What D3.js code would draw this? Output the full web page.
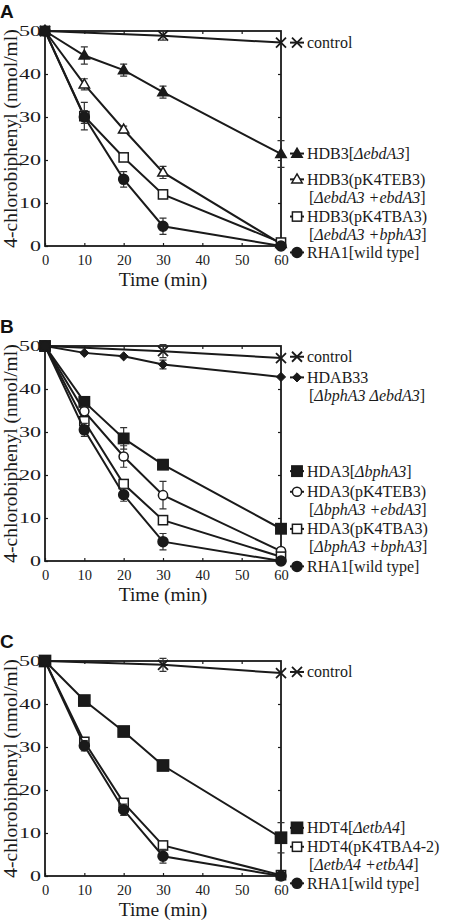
<!DOCTYPE html>
<html><head><meta charset="utf-8">
<script src="https://cdn.jsdelivr.net/npm/d3@7"></script>
<style>body{margin:0;background:#fff}svg{display:block}</style></head>
<body>
<script>
// ---------- data ----------
const times = [0, 10, 20, 30, 60];
const ctrlTimes = [0, 30, 60];
const xTicks = [0, 10, 20, 30, 40, 50, 60];
const yTicks = [0, 10, 20, 30, 40, 50];
const panelLetters = ["A", "B", "C"];

// Panel A
const A_control = [50, 48.9, 47.3], A_controlErr = [0, 1.0, 0];
const A_HDB3 = [50, 44.3, 40.9, 35.8, 21.4], A_HDB3Err = [0, 2.0, 1.4, 1.4, 3.1];
const A_TEB3 = [50, 37.6, 27.1, 17.1, 0.5], A_TEB3Err = [0, 1.3, 0.8, 1.4, 0];
const A_TBA3 = [50, 30.2, 20.6, 12.0, 0.8], A_TBA3Err = [0, 3.2, 0.6, 0.6, 0];
const A_RHA1 = [50, 30.0, 15.5, 4.6, 0], A_RHA1Err = [0, 1.5, 1.8, 1.9, 0];
const A_labels = [["control"], ["HDB3[<i>ΔebdA3</i>]"], ["HDB3(pK4TEB3)", "[<i>ΔebdA3 +ebdA3</i>]"],
  ["HDB3(pK4TBA3)", "[<i>ΔebdA3 +bphA3</i>]"], ["RHA1[wild type]"]];
const A_legendY = [47.3, 21.5, 15.5, 6.85, -1.5];

// Panel B
const B_control = [50, 48.8, 47.2], B_controlErr = [0, 1.5, 0];
const B_HDAB33 = [50, 48.4, 47.6, 45.7, 42.8], B_HDAB33Err = [0, 0, 0, 1.0, 0];
const B_HDA3 = [50, 37.0, 28.5, 22.4, 7.5], B_HDA3Err = [0, 1.0, 2.5, 0.5, 0];
const B_TEB3 = [50, 34.8, 24.3, 15.3, 2.3], B_TEB3Err = [0, 1.0, 2.5, 3.2, 0.5];
const B_TBA3 = [50, 32.5, 17.9, 9.5, 1.0], B_TBA3Err = [0, 1.0, 0.5, 0.5, 0];
const B_RHA1 = [50, 30.5, 15.4, 4.5, 0], B_RHA1Err = [0, 1.5, 1.5, 1.9, 0];
const B_labels = [["control"], ["HDAB33", "[<i>ΔbphA3 ΔebdA3</i>]"], ["HDA3[<i>ΔbphA3</i>]"],
  ["HDA3(pK4TEB3)", "[<i>ΔbphA3 +ebdA3</i>]"], ["HDA3(pK4TBA3)", "[<i>ΔbphA3 +bphA3</i>]"], ["RHA1[wild type]"]];
const B_legendY = [47.5, 42.7, 20.9, 16.1, 7.47, -1.25];

// Panel C
const C_control = [50, 49.1, 47.2], C_controlErr = [0, 1.5, 0];
const C_HDT4 = [50, 40.8, 33.6, 25.7, 8.9], C_HDT4Err = [0, 0, 0, 0, 3.5];
const C_TBA42 = [50, 31.2, 17.0, 7.1, 0.2], C_TBA42Err = [0, 0.8, 0.8, 0.5, 0];
const C_RHA1 = [50, 30.3, 15.4, 4.6, 0], C_RHA1Err = [0, 1.2, 1.3, 1.6, 0];
const C_labels = [["control"], ["HDT4[<i>ΔetbA4</i>]"], ["HDT4(pK4TBA4-2)", "[<i>ΔetbA4 +etbA4</i>]"], ["RHA1[wild type]"]];
const C_legendY = [47.45, 11.2, 6.8, -1.7];

// ---------- layout ----------
const W = 450, H = 922;
const ink = "#1a1a1a";
const serif = "'Liberation Serif','Times New Roman',serif";
const plotLeft = 45, plotRight = 281, plotH = 215;
const panelTops = [31, 346, 661];

const panels = [
  { series: [
      { t: ctrlTimes, v: A_control, e: A_controlErr, m: "x" },
      { t: times, v: A_HDB3, e: A_HDB3Err, m: "triF" },
      { t: times, v: A_TEB3, e: A_TEB3Err, m: "triO" },
      { t: times, v: A_TBA3, e: A_TBA3Err, m: "sqO" },
      { t: times, v: A_RHA1, e: A_RHA1Err, m: "cirF" } ],
    labels: A_labels, legendY: A_legendY },
  { series: [
      { t: ctrlTimes, v: B_control, e: B_controlErr, m: "x" },
      { t: times, v: B_HDAB33, e: B_HDAB33Err, m: "dia" },
      { t: times, v: B_HDA3, e: B_HDA3Err, m: "sqF" },
      { t: times, v: B_TEB3, e: B_TEB3Err, m: "cirO" },
      { t: times, v: B_TBA3, e: B_TBA3Err, m: "sqO" },
      { t: times, v: B_RHA1, e: B_RHA1Err, m: "cirF" } ],
    labels: B_labels, legendY: B_legendY },
  { series: [
      { t: ctrlTimes, v: C_control, e: C_controlErr, m: "x" },
      { t: times, v: C_HDT4, e: C_HDT4Err, m: "sqFL" },
      { t: times, v: C_TBA42, e: C_TBA42Err, m: "sqO" },
      { t: times, v: C_RHA1, e: C_RHA1Err, m: "cirF" } ],
    labels: C_labels, legendY: C_legendY }
];

const svg = d3.select("body").append("svg").attr("width", W).attr("height", H)
  .attr("font-family", serif).style("font-family", serif);

function marker(g, type, x, y) {
  const s = ink;
  if (type === "x") {
    const r = 5;
    g.append("path").attr("d", `M${x - r},${y - r}L${x + r},${y + r}M${x - r},${y + r}L${x + r},${y - r}`)
      .attr("stroke", s).attr("stroke-width", 1.8).attr("fill", "none");
  } else if (type === "triF" || type === "triO") {
    const a = 5.2, h = 9;
    g.append("path").attr("d", `M${x},${y - h * 0.6}L${x + a},${y + h * 0.4}L${x - a},${y + h * 0.4}Z`)
      .attr("fill", type === "triF" ? s : "#fff").attr("stroke", s).attr("stroke-width", 1.5);
  } else if (type === "sqF" || type === "sqO" || type === "sqFL") {
    const a = type === "sqFL" ? 5.6 : (type === "sqF" ? 5.2 : 4.6);
    g.append("rect").attr("x", x - a).attr("y", y - a).attr("width", 2 * a).attr("height", 2 * a)
      .attr("fill", type === "sqO" ? "#fff" : s).attr("stroke", s).attr("stroke-width", 1.5);
  } else if (type === "cirF" || type === "cirO") {
    g.append("circle").attr("cx", x).attr("cy", y).attr("r", type === "cirF" ? 5 : 4.6)
      .attr("fill", type === "cirF" ? s : "#fff").attr("stroke", s).attr("stroke-width", 1.5);
  } else if (type === "dia") {
    const a = 4.6;
    g.append("path").attr("d", `M${x},${y - a}L${x + a},${y}L${x},${y + a}L${x - a},${y}Z`)
      .attr("fill", s).attr("stroke", s).attr("stroke-width", 1);
  }
}

function richText(textSel, str) {
  const parts = str.split(/(<i>.*?<\/i>)/).filter(p => p.length);
  parts.forEach(p => {
    const it = p.startsWith("<i>");
    textSel.append("tspan").text(it ? p.slice(3, -4) : p).attr("font-style", it ? "italic" : "normal");
  });
}

panels.forEach((p, pi) => {
  const top = panelTops[pi];
  const x = d3.scaleLinear().domain([0, 60]).range([plotLeft, plotRight]);
  const y = d3.scaleLinear().domain([0, 50]).range([top + plotH, top]);
  const g = svg.append("g");

  // panel letter
  g.append("text").attr("x", 0).attr("y", top - 13).text(panelLetters[pi])
    .attr("font-family", "'Liberation Sans',Arial,sans-serif").attr("font-weight", "bold")
    .attr("font-size", 19).attr("fill", "#111");

  // axes (inward ticks)
  const ax = g.append("g").attr("transform", `translate(0,${top + plotH})`)
    .call(d3.axisBottom(x).tickValues(xTicks).tickSize(-3).tickPadding(5));
  ax.selectAll("text").attr("font-size", 14.5).attr("font-family", serif).attr("fill", ink).attr("dy", "0.95em");
  const ay = g.append("g").attr("transform", `translate(${plotLeft},0)`)
    .call(d3.axisLeft(y).tickValues(yTicks).tickSize(-3).tickPadding(4));
  ay.selectAll("text").attr("font-size", 15).attr("font-family", serif).attr("fill", ink)
    .attr("textLength", d => String(d).length * 11).attr("lengthAdjust", "spacingAndGlyphs");
  const at = g.append("g").attr("transform", `translate(0,${top})`)
    .call(d3.axisTop(x).tickValues(xTicks.slice(1, -1)).tickSize(-3).tickFormat(""));
  const ar = g.append("g").attr("transform", `translate(${plotRight},0)`)
    .call(d3.axisRight(y).tickValues(yTicks.slice(1, -1)).tickSize(-3).tickFormat(""));
  [ax, ay, at, ar].forEach(a => {
    a.select(".domain").remove();
    a.selectAll("line").attr("stroke", ink).attr("stroke-width", 1.2);
  });
  g.append("rect").attr("x", plotLeft).attr("y", top).attr("width", plotRight - plotLeft).attr("height", plotH)
    .attr("fill", "none").attr("stroke", ink).attr("stroke-width", 1.8);

  // titles
  g.append("text").attr("x", (plotLeft + plotRight) / 2).attr("y", top + plotH + 40)
    .attr("text-anchor", "middle").attr("font-size", 19.5).attr("fill", ink).text("Time (min)");
  g.append("text").attr("transform", `translate(17,${top + plotH / 2}) rotate(-90)`)
    .attr("text-anchor", "middle").attr("font-size", 19.5).attr("fill", ink).text("4-chlorobiphenyl (nmol/ml)");

  // series
  const line = d3.line().x(d => x(d[0])).y(d => y(d[1]));
  p.series.forEach(s => {
    const pts = s.t.map((t, i) => [t, s.v[i], s.e[i]]);
    g.append("path").attr("d", line(pts)).attr("fill", "none").attr("stroke", ink).attr("stroke-width", 2);
    pts.filter(d => d[2] > 0).forEach(d => {
      const cx = x(d[0]), y1 = y(d[1] + d[2]), y2 = y(d[1] - d[2]);
      g.append("path").attr("d", `M${cx},${y1}V${y2}M${cx - 3.5},${y1}H${cx + 3.5}M${cx - 3.5},${y2}H${cx + 3.5}`)
        .attr("stroke", "#333").attr("stroke-width", 1.2).attr("fill", "none");
    });
    pts.forEach(d => marker(g, s.m, x(d[0]), y(d[1])));
  });

  // legend
  p.series.forEach((s, i) => {
    const ly = y(p.legendY[i]);
    g.append("line").attr("x1", 290).attr("x2", 304).attr("y1", ly).attr("y2", ly)
      .attr("stroke", ink).attr("stroke-width", 2);
    marker(g, s.m, 297, ly);
    p.labels[i].forEach((ln, li) => {
      const t = g.append("text").attr("x", li === 0 ? 307 : 309).attr("y", ly + 5.5 + li * 18)
        .attr("font-size", 16).attr("fill", ink);
      richText(t, ln);
    });
  });
});
</script>
</body></html>
